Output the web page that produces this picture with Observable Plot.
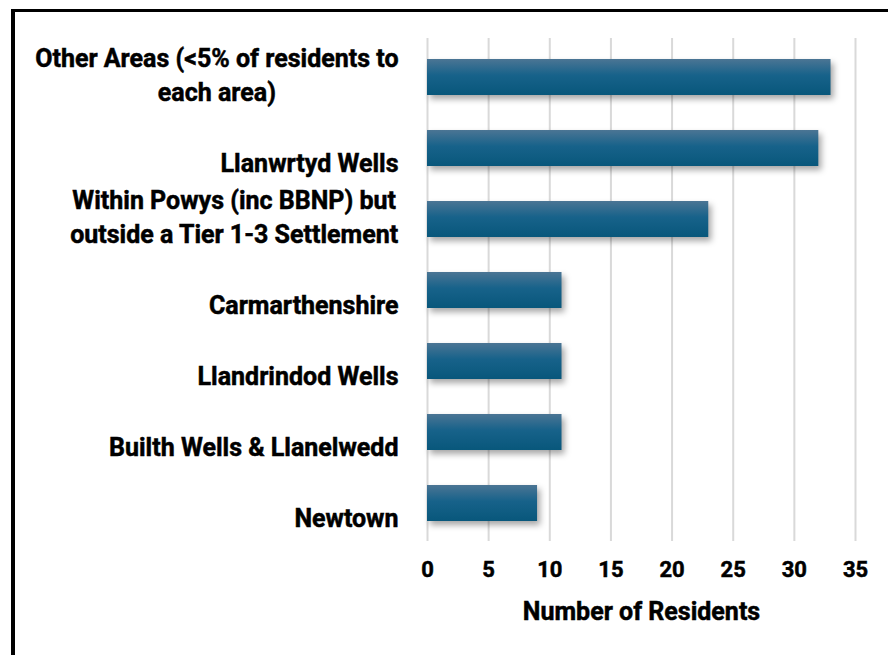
<!DOCTYPE html>
<html>
<head>
<meta charset="utf-8">
<script src="https://cdn.jsdelivr.net/npm/d3@7"></script>
<script src="https://cdn.jsdelivr.net/npm/@observablehq/plot@0.6"></script>
<style>
  html, body { margin: 0; padding: 0; background: #fff; overflow: hidden; }
  #wrap { position: relative; width: 888px; height: 655px; }
  #frame { position: absolute; left: 11px; top: 9px; width: 900px; height: 700px;
           border-top: 3px solid #000; border-left: 4px solid #000; box-sizing: border-box; pointer-events: none; }
  #chart svg text { stroke: #000; stroke-width: 0.5px; }
</style>
</head>
<body>
<div id="wrap"><div id="chart"></div><div id="frame"></div></div>
<script>
const categories = [
  "Other Areas (<5% of residents to each area)",
  "Llanwrtyd Wells",
  "Within Powys (inc BBNP) but outside a Tier 1-3 Settlement",
  "Carmarthenshire",
  "Llandrindod Wells",
  "Builth Wells & Llanelwedd",
  "Newtown"
];
const labelLines = [
  ["Other Areas (<5% of residents to", "each area)"],
  ["", "Llanwrtyd Wells"],
  ["Within Powys (inc BBNP) but", "outside a Tier 1-3 Settlement"],
  ["", "Carmarthenshire"],
  ["", "Llandrindod Wells"],
  ["", "Builth Wells & Llanelwedd"],
  ["", "Newtown"]
];
const residents = [33, 32, 23, 11, 11, 11, 9];
const xTicks = [0, 5, 10, 15, 20, 25, 30, 35];
const axisTitle = "Number of Residents";

const data = categories.map((c, i) => ({cat: c, value: residents[i], label: labelLines[i].join("\n"), lines: labelLines[i]}));

const FONT = "Roboto";
const labelSize = 25;
const ctx = document.createElement("canvas").getContext("2d");
ctx.font = `bold ${labelSize}px ${FONT}`;
const gap = 29;

const labelMarks = data.map(d => {
  const w = d3.max(d.lines, l => ctx.measureText(l).width);
  return Plot.text([d], {
    y: "cat", text: "label", frameAnchor: "left", textAnchor: "middle",
    dx: -gap - w / 2, dy: -4, lineHeight: 1.34, fontSize: labelSize, fontWeight: "bold", fill: "#000"
  });
});

const chart = Plot.plot({
  width: 888, height: 655,
  marginLeft: 427, marginRight: 33, marginTop: 38, marginBottom: 114,
  x: {domain: [0, 35]},
  y: {domain: categories, paddingInner: 0.5, paddingOuter: 0.25, axis: null},
  style: {fontFamily: FONT, fontWeight: "bold", fontSize: "22px", color: "#000", background: "transparent", overflow: "visible"},
  marks: [
    Plot.gridX(xTicks, {stroke: "#d9d9d9", strokeOpacity: 1, strokeWidth: 2}),
    Plot.barX(data, {x: "value", y: "cat", fill: "url(#barGrad)"}),
    Plot.axisX({ticks: xTicks, tickSize: 0, tickPadding: 20, fontSize: 22, fontWeight: "bold", label: null}),
    Plot.axisX({ticks: [], tickSize: 0, fontSize: 25, fontWeight: "bold", label: axisTitle, labelAnchor: "center", labelArrow: "none", labelOffset: 78}),
    ...labelMarks
  ]
});

const ns = "http://www.w3.org/2000/svg";
const defs = document.createElementNS(ns, "defs");
defs.innerHTML = `<linearGradient id="barGrad" x1="0" y1="0" x2="0" y2="1">
  <stop offset="0%" stop-color="#4b7594"/>
  <stop offset="45%" stop-color="#17628a"/>
  <stop offset="100%" stop-color="#08577b"/>
</linearGradient>`;
chart.insertBefore(defs, chart.firstChild);
chart.querySelectorAll('g[aria-label="bar"]').forEach(g => {
  g.style.filter = "drop-shadow(3px 4px 3px rgba(0,0,0,0.35))";
});
document.getElementById("chart").appendChild(chart);
</script>
</body>
</html>
